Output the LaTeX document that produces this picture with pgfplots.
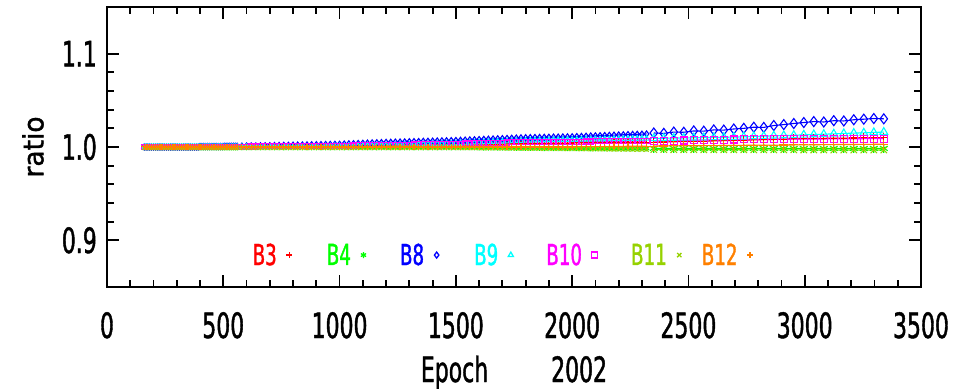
\documentclass[border=0pt]{standalone}
\usepackage{fontspec}
\setmainfont{DejaVu Sans}[FakeStretch=0.63,FakeBold=1.2]
\newfontfamily\ratiofont{DejaVu Sans}[FakeStretch=0.95,FakeBold=1.2]
\usepackage{pgfplots}
\usepackage{pgfplotstable}
\pgfplotsset{compat=1.18}
\definecolor{cbthree}{RGB}{255,0,0}
\definecolor{cbfour}{RGB}{0,255,0}
\definecolor{cbeight}{RGB}{0,0,255}
\definecolor{cbnine}{RGB}{0,255,255}
\definecolor{cbten}{RGB}{255,0,255}
\definecolor{cbeleven}{RGB}{150,210,0}
\definecolor{cbtwelve}{RGB}{255,128,0}

\pgfplotstableread{
t b3 b4 b8 b9 b10 b11 b12
160 1.0003 0.9996 1 1 1.0004 0.9992 1.0003
168 1.0003 0.9996 1 1 1.0004 0.9992 0.9997
176 1.0003 0.9996 1 1 1.0004 0.9992 1.0003
184 1.0003 0.9996 1 1 1.0004 0.9992 0.9997
192 1.0003 0.9996 1 1 1.0004 0.9992 1.0003
200 1.0003 0.9996 1 1 1.0004 0.9992 0.9997
208 1.0003 0.9996 1 1 1.0004 0.9992 1.0003
216 1.0003 0.9996 1 1 1.0004 0.9992 0.9997
224 1.0003 0.9996 1 1 1.0004 0.9992 1.0003
232 1.0003 0.9996 1 1 1.0004 0.9992 0.9997
240 1.0003 0.9996 1 1 1.0004 0.9992 1.0003
248 1.0003 0.9996 1 1 1.0004 0.9992 0.9997
256 1.0003 0.9996 1 1 1.0004 0.9992 1.0003
264 1.0003 0.9996 1 1 1.0004 0.9992 0.9997
272 1.0003 0.9996 1 1 1.0004 0.9992 1.0003
280 1.0003 0.9996 1 1 1.0004 0.9992 0.9997
288 1.0003 0.9996 1 1 1.0004 0.9992 1.0003
296 1.0003 0.9996 1 1 1.0004 0.9992 0.9997
304 1.0003 0.9996 1 1 1.0004 0.9992 1.0003
312 1.0003 0.9996 1 1 1.0004 0.9992 0.9997
320 1.0003 0.9996 1 1 1.0004 0.9992 1.0003
328 1.0003 0.9996 1 1 1.0004 0.9992 0.9997
336 1.0003 0.9996 1 1 1.0004 0.9992 1.0003
344 1.0003 0.9996 1 1 1.0004 0.9992 0.9997
352 1.0003 0.9996 1 1 1.0004 0.9992 1.0003
360 1.0003 0.9996 1 1 1.0004 0.9992 0.9997
368 1.0003 0.9996 1 1 1.0004 0.9992 1.0003
376 1.0003 0.9996 1 1 1.0004 0.9992 0.9997
384 1.0003 0.9996 1 1 1.0004 0.9992 1.0003
392 1.0003 0.9996 1 1 1.0004 0.9992 0.9997
400 1.0003 0.9996 1.0005 1 1.0004 0.9992 1.0003
408 1.0003 0.9996 1.0005 1 1.0004 0.9992 0.9997
416 1.0003 0.9996 1.0005 1 1.0004 0.9992 1.0003
424 1.0003 0.9996 1.0005 1 1.0004 0.9992 0.9997
432 1.0003 0.9996 1.0005 1 1.0004 0.9992 1.0003
440 1.0003 0.9996 1.0005 1 1.0004 0.9992 0.9997
448 1.0003 0.9996 1.0005 1 1.0004 0.9992 1.0003
456 1.0003 0.9996 1.0005 1 1.0004 0.9992 0.9997
464 1.0003 0.9996 1.0005 1 1.0004 0.9992 1.0003
472 1.0003 0.9996 1.0005 1 1.0004 0.9992 0.9997
480 1.0003 0.9996 1.0005 1 1.0004 0.9992 1.0003
488 1.0003 0.9996 1.0005 1 1.0004 0.9992 0.9997
496 1.0003 0.9996 1.0005 1 1.0004 0.9992 1.0003
504 1.0003 0.9996 1.0008 1 1.0004 0.9992 0.9997
512 1.0003 0.9996 1.0008 1 1.0004 0.9992 1.0003
520 1.0003 0.9996 1.0008 1 1.0004 0.9992 0.9997
528 1.0003 0.9996 1.0008 1 1.0004 0.9992 1.0003
536 1.0003 0.9996 1.0008 1 1.0004 0.9992 0.9997
544 1.0003 0.9996 1.0008 1 1.0004 0.9992 1.0003
552 1.0003 0.9996 1.0008 1 1.0004 0.9992 0.9997
560 1.0003 0.9996 1.0008 1 1.0004 0.9992 1.0003
580  1.0003 0.9996 1.0010 1.0000 1.0004 0.9992 1.0000
600  1.0003 0.9996 1.0011 1.0000 1.0004 0.9992 1.0000
620  1.0003 0.9996 1.0012 1.0000 1.0005 0.9992 1.0000
640  1.0004 0.9996 1.0012 1.0000 1.0005 0.9992 1.0000
660  1.0004 0.9996 1.0013 1.0000 1.0006 0.9992 1.0000
680  1.0004 0.9996 1.0014 1.0000 1.0006 0.9992 1.0000
700  1.0004 0.9996 1.0015 1.0000 1.0007 0.9992 1.0000
720  1.0005 0.9996 1.0016 1.0000 1.0007 0.9992 1.0000
740  1.0005 0.9996 1.0017 1.0000 1.0008 0.9992 1.0000
760  1.0005 0.9996 1.0018 1.0000 1.0008 0.9992 1.0000
780  1.0005 0.9996 1.0019 1.0000 1.0009 0.9992 1.0000
800  1.0006 0.9996 1.0020 1.0000 1.0009 0.9992 1.0000
820  1.0006 0.9996 1.0021 1.0001 1.0010 0.9992 1.0000
840  1.0006 0.9996 1.0022 1.0002 1.0010 0.9992 1.0000
860  1.0006 0.9996 1.0023 1.0003 1.0011 0.9992 1.0000
880  1.0007 0.9996 1.0024 1.0004 1.0011 0.9992 1.0000
900  1.0007 0.9996 1.0025 1.0005 1.0012 0.9992 1.0000
920  1.0007 0.9996 1.0026 1.0006 1.0012 0.9992 1.0000
940  1.0007 0.9996 1.0027 1.0007 1.0013 0.9992 1.0000
960  1.0008 0.9996 1.0028 1.0008 1.0013 0.9992 1.0000
980  1.0008 0.9996 1.0029 1.0009 1.0014 0.9992 1.0000
1000 1.0008 0.9996 1.0030 1.0010 1.0014 0.9992 1.0000
1020 1.0009 0.9996 1.0032 1.0011 1.0015 0.9992 1.0000
1040 1.0009 0.9996 1.0034 1.0012 1.0015 0.9992 1.0000
1060 1.0010 0.9996 1.0036 1.0014 1.0016 0.9992 1.0000
1080 1.0010 0.9996 1.0038 1.0015 1.0017 0.9992 1.0000
1100 1.0011 0.9996 1.0040 1.0016 1.0018 0.9992 1.0000
1120 1.0012 0.9996 1.0042 1.0017 1.0019 0.9992 1.0000
1140 1.0012 0.9996 1.0044 1.0018 1.0020 0.9992 1.0000
1160 1.0013 0.9996 1.0046 1.0020 1.0020 0.9992 1.0000
1180 1.0013 0.9996 1.0048 1.0021 1.0021 0.9992 1.0000
1200 1.0014 0.9996 1.0050 1.0022 1.0022 0.9992 1.0000
1220 1.0015 0.9996 1.0051 1.0023 1.0023 0.9992 1.0000
1240 1.0015 0.9996 1.0053 1.0024 1.0024 0.9992 1.0000
1260 1.0016 0.9996 1.0054 1.0026 1.0024 0.9992 1.0000
1280 1.0016 0.9996 1.0055 1.0027 1.0025 0.9992 1.0000
1300 1.0017 0.9996 1.0057 1.0028 1.0026 0.9992 1.0000
1320 1.0018 0.9996 1.0058 1.0029 1.0027 0.9992 1.0000
1340 1.0018 0.9996 1.0059 1.0030 1.0028 0.9992 1.0000
1360 1.0019 0.9996 1.0061 1.0032 1.0028 0.9992 1.0000
1380 1.0019 0.9996 1.0062 1.0033 1.0029 0.9992 1.0000
1400 1.0020 0.9996 1.0063 1.0034 1.0030 0.9992 1.0000
1420 1.0021 0.9996 1.0065 1.0035 1.0031 0.9992 1.0000
1440 1.0021 0.9996 1.0066 1.0036 1.0032 0.9992 1.0000
1460 1.0022 0.9996 1.0067 1.0038 1.0032 0.9992 1.0000
1480 1.0022 0.9996 1.0069 1.0039 1.0033 0.9992 1.0000
1500 1.0023 0.9996 1.0070 1.0040 1.0034 0.9992 1.0000
1520 1.0024 0.9996 1.0072 1.0042 1.0035 0.9991 1.0000
1540 1.0024 0.9995 1.0074 1.0044 1.0037 0.9991 1.0000
1560 1.0025 0.9995 1.0076 1.0046 1.0038 0.9990 1.0000
1580 1.0026 0.9995 1.0078 1.0048 1.0039 0.9990 1.0000
1600 1.0027 0.9994 1.0080 1.0049 1.0040 0.9989 1.0000
1620 1.0028 0.9994 1.0082 1.0051 1.0042 0.9989 1.0000
1640 1.0029 0.9993 1.0084 1.0053 1.0043 0.9988 1.0000
1660 1.0029 0.9993 1.0086 1.0055 1.0044 0.9988 1.0000
1680 1.0030 0.9993 1.0088 1.0057 1.0045 0.9987 1.0000
1700 1.0031 0.9992 1.0090 1.0059 1.0047 0.9987 1.0000
1720 1.0032 0.9992 1.0092 1.0061 1.0048 0.9986 1.0000
1740 1.0033 0.9992 1.0094 1.0063 1.0049 0.9986 1.0000
1760 1.0033 0.9991 1.0096 1.0064 1.0050 0.9985 1.0000
1780 1.0034 0.9991 1.0098 1.0066 1.0052 0.9985 1.0000
1800 1.0035 0.9991 1.0100 1.0068 1.0053 0.9985 1.0000
1820 1.0036 0.9990 1.0101 1.0070 1.0054 0.9984 1.0000
1840 1.0037 0.9990 1.0102 1.0071 1.0054 0.9984 1.0000
1860 1.0037 0.9990 1.0103 1.0072 1.0055 0.9983 1.0000
1880 1.0038 0.9989 1.0104 1.0072 1.0055 0.9983 1.0000
1900 1.0039 0.9989 1.0105 1.0073 1.0056 0.9983 1.0000
1920 1.0040 0.9989 1.0106 1.0074 1.0056 0.9982 1.0000
1940 1.0041 0.9988 1.0107 1.0075 1.0056 0.9982 1.0000
1960 1.0041 0.9988 1.0108 1.0076 1.0057 0.9981 1.0000
1980 1.0042 0.9988 1.0109 1.0076 1.0057 0.9981 1.0000
2000 1.0043 0.9987 1.0110 1.0077 1.0058 0.9981 1.0000
2020 1.0044 0.9987 1.0112 1.0078 1.0058 0.9980 1.0001
2040 1.0044 0.9987 1.0114 1.0079 1.0058 0.9979 1.0001
2060 1.0045 0.9987 1.0116 1.0080 1.0059 0.9979 1.0002
2080 1.0046 0.9986 1.0118 1.0080 1.0059 0.9978 1.0003
2100 1.0046 0.9986 1.0120 1.0081 1.0060 0.9978 1.0003
2120 1.0047 0.9986 1.0121 1.0082 1.0060 0.9977 1.0004
2140 1.0047 0.9986 1.0123 1.0083 1.0060 0.9977 1.0004
2160 1.0048 0.9985 1.0125 1.0084 1.0061 0.9976 1.0005
2180 1.0049 0.9985 1.0127 1.0084 1.0061 0.9976 1.0006
2200 1.0049 0.9985 1.0129 1.0085 1.0062 0.9975 1.0006
2220 1.0050 0.9985 1.0131 1.0086 1.0062 0.9975 1.0007
2240 1.0050 0.9985 1.0133 1.0087 1.0062 0.9974 1.0008
2260 1.0051 0.9985 1.0135 1.0088 1.0063 0.9974 1.0008
2280 1.0051 0.9985 1.0136 1.0088 1.0063 0.9973 1.0009
2300 1.0052 0.9985 1.0138 1.0089 1.0064 0.9973 1.0009
2320 1.0052 0.9985 1.0140 1.0090 1.0064 0.9972 1.0010
}\early

\pgfplotstableread{
t b3 b4 b8 b9 b10 b11 b12
2351 1.0052 0.9985 1.0150 1.0092 1.0064 0.9972 1.0010
2394 1.0054 0.9984 1.0146 1.0094 1.0066 0.9972 1.0011
2437 1.0056 0.9985 1.0160 1.0096 1.0068 0.9971 1.0012
2480 1.0058 0.9984 1.0158 1.0097 1.0070 0.9971 1.0013
2523 1.0060 0.9985 1.0172 1.0099 1.0072 0.9971 1.0013
2566 1.0063 0.9984 1.0170 1.0101 1.0074 0.9970 1.0014
2609 1.0065 0.9985 1.0183 1.0103 1.0076 0.9970 1.0015
2652 1.0068 0.9984 1.0181 1.0104 1.0078 0.9970 1.0016
2695 1.0070 0.9985 1.0193 1.0106 1.0080 0.9970 1.0017
2738 1.0073 0.9984 1.0200 1.0109 1.0081 0.9970 1.0018
2781 1.0076 0.9985 1.0212 1.0113 1.0081 0.9969 1.0019
2824 1.0079 0.9984 1.0210 1.0116 1.0082 0.9969 1.0020
2867 1.0081 0.9985 1.0230 1.0120 1.0083 0.9969 1.0020
2910 1.0084 0.9984 1.0240 1.0123 1.0083 0.9969 1.0021
2953 1.0087 0.9985 1.0252 1.0126 1.0084 0.9969 1.0022
2996 1.0090 0.9984 1.0262 1.0130 1.0085 0.9968 1.0023
3039 1.0091 0.9985 1.0272 1.0134 1.0085 0.9968 1.0024
3082 1.0093 0.9984 1.0268 1.0137 1.0086 0.9968 1.0025
3125 1.0094 0.9985 1.0282 1.0141 1.0087 0.9968 1.0026
3168 1.0095 0.9984 1.0279 1.0145 1.0087 0.9968 1.0027
3211 1.0096 0.9985 1.0292 1.0149 1.0088 0.9968 1.0027
3254 1.0098 0.9984 1.0298 1.0152 1.0089 0.9968 1.0028
3297 1.0099 0.9985 1.0305 1.0156 1.0089 0.9968 1.0029
3340 1.0100 0.9985 1.0302 1.0160 1.0090 0.9968 1.0030
}\late

\begin{document}
\begin{tikzpicture}
\begin{axis}[
  scale only axis, width=814bp, height=280bp,
  xmin=0, xmax=3500, ymin=0.85, ymax=1.15,
  xtick={0,500,...,3500}, ytick={0.9,1.0,1.1},
  minor x tick num=4, minor y tick num=4,
  tick align=inside,
  major tick length=12bp, minor tick length=7bp,
  tick style={black, line width=1.8bp},
  axis line style={line width=2bp},
  /pgf/number format/assume math mode=true,
  tick label style={font=\fontsize{35}{35}\selectfont},
  xticklabel style={anchor=base, yshift=-51bp, /pgf/number format/set thousands separator={}},
  yticklabel style={anchor=east, xshift=-10bp, inner sep=0pt,
    /pgf/number format/fixed, /pgf/number format/fixed zerofill, /pgf/number format/precision=1},
  xlabel={Epoch\hspace*{63bp}2002},
  xlabel style={at={(axis description cs:0.5,-0.3393)}, anchor=base, font=\fontsize{35}{35}\selectfont},
  ylabel={\ratiofont ratio},
  ylabel style={at={(axis description cs:-0.0909,0.5)}, anchor=center, font=\fontsize{28}{28}\selectfont},
  legend columns=7,
  legend plot pos=right,
  legend image code/.code={\path (-3bp,0bp) (3bp,0bp); \draw[only marks,mark size=3bp,line width=1.3bp] plot coordinates {(0bp,0bp)};},
  legend style={at={(axis description cs:0.179,0.114)}, anchor=west, draw=none, fill=none,
    inner sep=0pt, outer sep=0pt, nodes={inner sep=0pt},
    font=\fontsize{29}{29}\selectfont,
    /tikz/every odd column/.style={column sep=9bp},
    /tikz/column 2/.style={column sep=34bp},
    /tikz/column 4/.style={column sep=33bp},
    /tikz/column 6/.style={column sep=34bp},
    /tikz/column 8/.style={column sep=32bp},
    /tikz/column 10/.style={column sep=33bp},
    /tikz/column 12/.style={column sep=19bp}},
  every axis plot/.append style={line width=1.1bp},
]
\addplot[color=cbthree, mark=+, mark size=3bp] table[x=t,y=b3] {\early};
\addlegendentry{\textcolor{cbthree}{B3}}
\addplot[color=cbthree, mark=+, mark size=4.5bp, forget plot] table[x=t,y=b3] {\late};
\addplot[color=cbfour, mark=asterisk, mark size=3bp] table[x=t,y=b4] {\early};
\addlegendentry{\textcolor{cbfour}{B4}}
\addplot[color=cbfour, mark=asterisk, mark size=4.5bp, forget plot] table[x=t,y=b4] {\late};
\addplot[color=cbeight, mark=diamond, mark size=3bp] table[x=t,y=b8] {\early};
\addlegendentry{\textcolor{cbeight}{B8}}
\addplot[color=cbeight, mark=diamond, mark size=5bp, forget plot] table[x=t,y=b8] {\late};
\addplot[color=cbnine, mark=triangle, mark size=3bp] table[x=t,y=b9] {\early};
\addlegendentry{\textcolor{cbnine}{B9}}
\addplot[color=cbnine, mark=triangle, mark size=4.5bp, forget plot] table[x=t,y=b9] {\late};
\addplot[color=cbten, mark=square, mark size=2.5bp] table[x=t,y=b10] {\early};
\addlegendentry{\textcolor{cbten}{B10}}
\addplot[color=cbten, mark=square, mark size=3.5bp, forget plot] table[x=t,y=b10] {\late};
\addplot[color=cbeleven, mark=x, mark size=3bp] table[x=t,y=b11] {\early};
\addlegendentry{\textcolor{cbeleven}{B11}}
\addplot[color=cbeleven, mark=x, mark size=4.5bp, forget plot] table[x=t,y=b11] {\late};
\addplot[color=cbtwelve, mark=+, mark size=3bp] table[x=t,y=b12] {\early};
\addlegendentry{\textcolor{cbtwelve}{B12}}
\addplot[color=cbtwelve, mark=+, mark size=4.5bp, forget plot] table[x=t,y=b12] {\late};
\end{axis}
\pgfresetboundingbox
\path[use as bounding box] ([shift={(-107bp,-102bp)}]current axis.south west) rectangle ([shift={(36bp,7bp)}]current axis.north east);
\end{tikzpicture}
\end{document}
